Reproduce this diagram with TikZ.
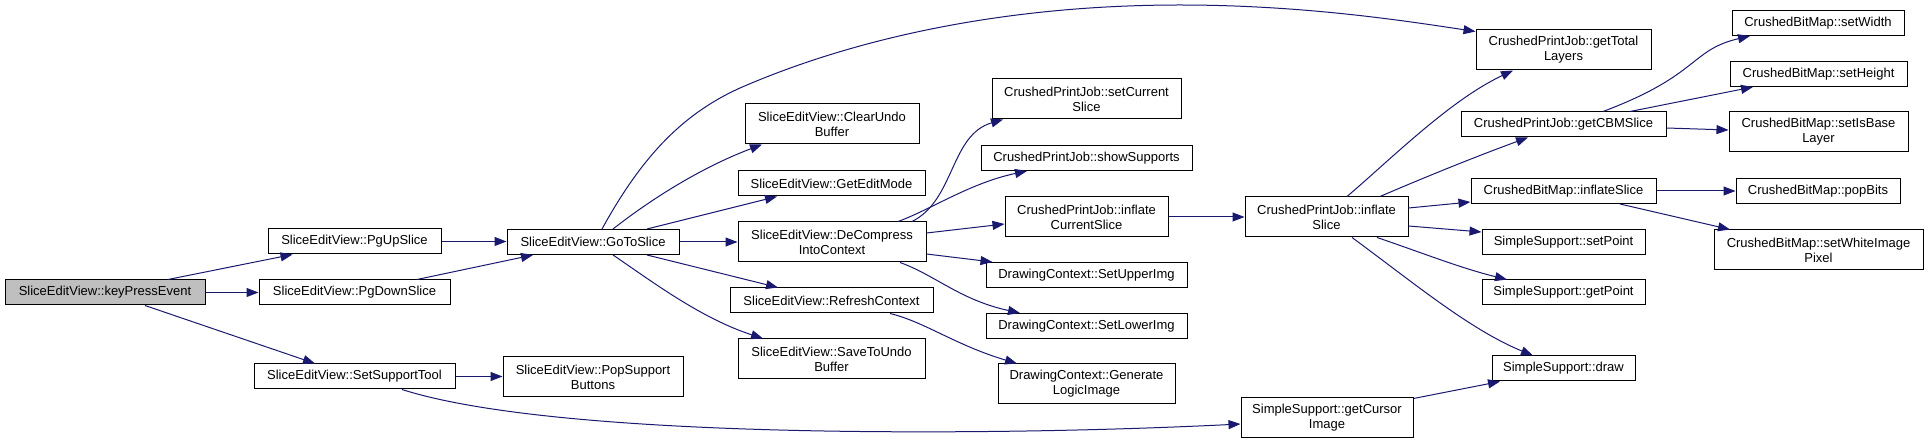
\documentclass[tikz,border=0pt]{standalone}
\usepackage{fontspec}
\setmainfont{Liberation Sans}
\usetikzlibrary{arrows.meta}
\definecolor{edgec}{HTML}{191970}
\definecolor{rootfill}{HTML}{BFBFBF}
\begin{document}
\begin{tikzpicture}[x=1pt,y=-1pt,
  fn/.style={draw=black,line width=1pt,fill=white,inner sep=0pt,align=center,minimum height=25pt,minimum width=#1,font=\fontsize{13}{15}\selectfont},
  fn2/.style={fn=#1,minimum height=40pt},
  edge/.style={draw=edgec,line width=1pt,-{Triangle[length=12pt,width=9pt]}}]
\fill[white] (0,0) rectangle (1928,443);
\useasboundingbox (0,0) rectangle (1928,443);
% nodes
\node[fn=200pt,fill=rootfill] (kpe) at (105,292.5) {SliceEditView::keyPressEvent};
\node[fn=173pt] (pgup) at (354.5,241.5) {SliceEditView::PgUpSlice};
\node[fn=191pt] (pgdown) at (354.5,292.5) {SliceEditView::PgDownSlice};
\node[fn=201pt] (sst) at (354.5,376.5) {SliceEditView::SetSupportTool};
\node[fn=172pt] (goto) at (593,242) {SliceEditView::GoToSlice};
\node[fn2=180pt] (popsup) at (593,377) {SliceEditView::PopSupport\\Buttons};
\node[fn2=174pt] (clearundo) at (832,124) {SliceEditView::ClearUndo\\Buffer};
\node[fn=187pt] (editmode) at (831.5,183.5) {SliceEditView::GetEditMode};
\node[fn2=188pt] (decomp) at (832,242) {SliceEditView::DeCompress\\IntoContext};
\node[fn=203pt] (refresh) at (831.5,300.5) {SliceEditView::RefreshContext};
\node[fn2=187pt] (saveundo) at (831.5,359) {SliceEditView::SaveToUndo\\Buffer};
\node[fn2=189pt] (setcur) at (1086.5,99) {CrushedPrintJob::setCurrent\\Slice};
\node[fn=211pt] (showsup) at (1086.5,158) {CrushedPrintJob::showSupports};
\node[fn2=163pt] (inflcur) at (1086.5,217) {CrushedPrintJob::inflate\\CurrentSlice};
\node[fn=201pt] (upper) at (1086.5,275) {DrawingContext::SetUpperImg};
\node[fn=201pt] (lower) at (1086.5,326) {DrawingContext::SetLowerImg};
\node[fn2=177pt] (genlogic) at (1086.5,384) {DrawingContext::Generate\\LogicImage};
\node[fn2=163pt] (infl) at (1326.5,217) {CrushedPrintJob::inflate\\Slice};
\node[fn2=172pt] (cursor) at (1327,418) {SimpleSupport::getCursor\\Image};
\node[fn2=175pt] (total) at (1563.5,50) {CrushedPrintJob::getTotal\\Layers};
\node[fn=205pt] (cbmslice) at (1563.5,124.5) {CrushedPrintJob::getCBMSlice};
\node[fn=185pt] (cbminfl) at (1563.5,191) {CrushedBitMap::inflateSlice};
\node[fn=163pt] (setpoint) at (1563.5,242) {SimpleSupport::setPoint};
\node[fn=163pt] (getpoint) at (1563.5,292.5) {SimpleSupport::getPoint};
\node[fn=143pt] (drawn) at (1563.5,368.5) {SimpleSupport::draw};
\node[fn=172pt] (setwidth) at (1818,23) {CrushedBitMap::setWidth};
\node[fn=177pt] (setheight) at (1818.5,74) {CrushedBitMap::setHeight};
\node[fn2=179pt] (setbase) at (1818.5,132) {CrushedBitMap::setIsBase\\Layer};
\node[fn=164pt] (popbits) at (1818,191) {CrushedBitMap::popBits};
\node[fn2=209pt] (setwhite) at (1818.5,250) {CrushedBitMap::setWhiteImage\\Pixel};
% edges
\draw[edge] ([xshift=63pt]kpe.north) -- ([xshift=-62pt]pgup.south);
\draw[edge] (kpe.east) -- (pgdown.west);
\draw[edge] ([xshift=40pt]kpe.south) -- ([xshift=-39.5pt]sst.north);
\draw[edge] (pgup.east) -- (pgup.east -| goto.west);
\draw[edge] ([xshift=62.5pt]pgdown.north) -- ([xshift=-60pt]goto.south);
\draw[edge] (sst.east) -- (sst.east -| popsup.west);
\draw[edge] ([xshift=47.5pt]sst.south) .. controls (560,440) and (1000,436) .. ([yshift=-6pt]cursor.west);
\draw[edge] ([xshift=9pt]goto.north) .. controls (640,160) and (680,115) .. (740,88) .. controls (850,40) and (1000,5) .. (1180,5) .. controls (1300,5) and (1400,20) .. ([yshift=-2pt]total.north west);
\draw[edge] ([xshift=20pt]goto.north) .. controls (650,200) and (700,168) .. ([xshift=-70pt]clearundo.south);
\draw[edge] ([xshift=54pt]goto.north) -- ([xshift=-54.5pt]editmode.south);
\draw[edge] (goto.east) -- (decomp.west);
\draw[edge] ([xshift=54pt]goto.south) -- ([xshift=-53.5pt]refresh.north);
\draw[edge] ([xshift=20pt]goto.south) .. controls (650,280) and (700,318) .. ([xshift=-68.5pt]saveundo.north);
\draw[edge] ([xshift=80pt]decomp.north) .. controls (955,200) and (950,135) .. ([xshift=-83.5pt]setcur.south);
\draw[edge] ([xshift=66pt]decomp.north) .. controls (930,210) and (970,183) .. ([xshift=-59.5pt]showsup.south);
\draw[edge] ([yshift=9pt]decomp.east) -- ([yshift=-7pt]inflcur.west);
\draw[edge] ([yshift=-12pt]decomp.east) -- ([xshift=7pt]upper.north west);
\draw[edge] ([xshift=68pt]decomp.south) .. controls (935,275) and (960,300) .. ([xshift=-66.5pt]lower.north);
\draw[edge] ([xshift=58.5pt]refresh.south) .. controls (925,322) and (955,345) .. ([xshift=-69.5pt]genlogic.north);
\draw[edge] (inflcur.east) -- (infl.west);
\draw[edge] ([xshift=20.5pt]infl.north) .. controls (1390,160) and (1450,100) .. ([xshift=-50.5pt]total.south);
\draw[edge] ([xshift=53.5pt]infl.north) .. controls (1430,175) and (1480,155) .. ([xshift=-35.5pt]cbmslice.south);
\draw[edge] ([yshift=9pt]infl.east) -- ([yshift=-11pt]cbminfl.west);
\draw[edge] ([yshift=-9pt]infl.east) -- ([yshift=10pt]setpoint.west);
\draw[edge] ([xshift=50.5pt]infl.south) .. controls (1420,252) and (1460,268) .. ([xshift=-56.5pt]getpoint.north);
\draw[edge] ([xshift=25.5pt]infl.south) .. controls (1410,280) and (1470,330) .. ([xshift=-30.5pt]drawn.north);
\draw[edge] ([yshift=-1pt]cursor.north east) -- ([xshift=-63.5pt]drawn.south);
\draw[edge] ([xshift=39.5pt]cbmslice.north) .. controls (1700,75) and (1690,50) .. ([xshift=-68pt]setwidth.south);
\draw[edge] ([xshift=66.5pt]cbmslice.north) -- ([xshift=-65.5pt]setheight.south);
\draw[edge] ([yshift=-3.5pt]cbmslice.east) -- ([yshift=2pt]setbase.west);
\draw[edge] (cbminfl.east) -- (popbits.west);
\draw[edge] ([xshift=56.5pt]cbminfl.south) -- ([xshift=-88.5pt]setwhite.north);
\end{tikzpicture}
\end{document}
